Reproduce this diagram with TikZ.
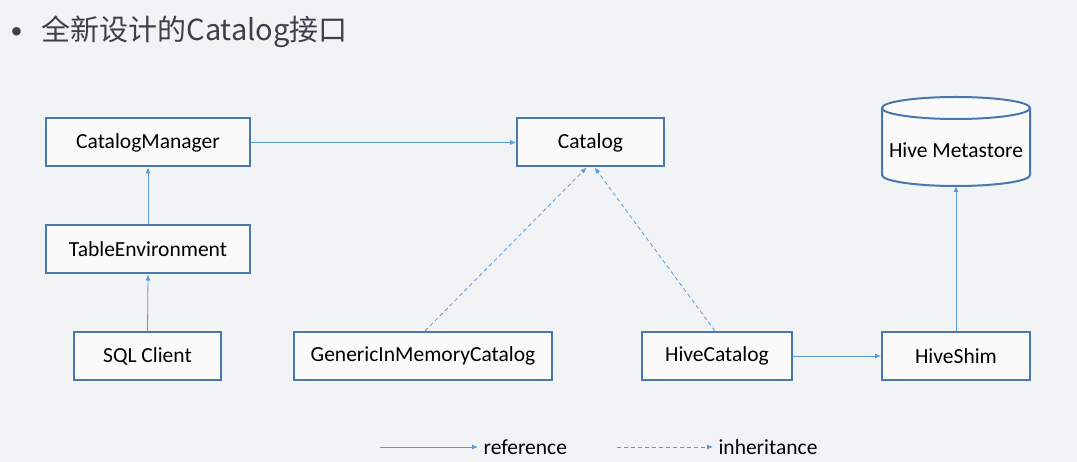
\documentclass[tikz,border=0pt]{standalone}
\usepackage{fontspec}
\setmainfont{Carlito}
\newfontfamily\cjk{Noto Sans CJK SC}
\usetikzlibrary{
    positioning,
    shapes.geometric,
    arrows.meta
}
\definecolor{boxblue}{HTML}{4A78AE}
\definecolor{arrblue}{HTML}{5B9BD5}
\definecolor{titlegray}{HTML}{3B404A}
\definecolor{bggray}{HTML}{F2F3F4}

\begin{document}
\begin{tikzpicture}[
    x=1pt, y=-1pt,
    box/.style={
        rectangle,
        draw=boxblue,
        line width=2pt,
        fill=white!60!bggray,
        minimum height=48pt,
        text centered,
        font=\fontsize{21.5}{24}\selectfont
    },
    storeline/.style={draw=boxblue, line width=2pt, fill=white!60!bggray},
    ref/.style={-{Latex[length=6pt,width=5pt]}, line width=0.8pt, color=arrblue},
    inh/.style={ref, dashed, dash pattern=on 4pt off 3pt}
]

% Background
\fill[bggray] (0,0) rectangle (1077,462);
\useasboundingbox (0,0) rectangle (1077,462);

% Title
\node[anchor=west, font=\fontsize{24}{26}\selectfont, color=titlegray] (bullet) at (7,33) {\textbullet};
\node[anchor=west, font=\cjk\fontsize{29}{31}\selectfont, color=titlegray] (title) at (38,32) {全新设计的Catalog接口};

% Boxes
\node[box, minimum width=204pt] (manager) at (148,142.5) {CatalogManager};
\node[box, minimum width=204pt] (tenv) at (148,249.5) {TableEnvironment};
\node[box, minimum width=147pt] (sql) at (147.5,356) {SQL Client};
\node[box, minimum width=258pt] (generic) at (423,356) {GenericInMemoryCatalog};
\node[box, minimum width=147pt] (catalog) at (590.5,142.5) {Catalog};
\node[box, minimum width=150pt] (hivecat) at (717,356) {HiveCatalog};
\node[box, minimum width=148pt] (shim) at (956,356) {HiveShim};

% Hive Metastore cylinder
\draw[storeline] (882,108) -- (882,175)
    arc[start angle=180, end angle=0, x radius=74, y radius=11] -- (1030,108);
\draw[storeline] (956,108) ellipse[x radius=74, y radius=11];
\node[font=\fontsize{21.5}{24}\selectfont] (metastore) at (956,150) {Hive Metastore};
\coordinate (metabot) at (956,186);

% References
\draw[ref] (manager.east) -- (catalog.west);
\draw[ref] (tenv.north) -- (manager.south);
\draw[ref] (sql.north) -- (tenv.south);
\draw[ref] (hivecat.east) -- (shim.west);
\draw[ref] (shim.north) -- (metabot);

% Inheritance
\draw[inh] ([xshift=2pt]generic.north) -- ([xshift=-4pt]catalog.south);
\draw[inh] ([xshift=-2pt]hivecat.north) -- ([xshift=4pt]catalog.south);

% Legend
\coordinate (refA) at (380,447);
\coordinate (refB) at (478,447);
\coordinate (inhA) at (617,447);
\coordinate (inhB) at (713,447);
\draw[ref] (refA) -- (refB);
\node[anchor=west, font=\fontsize{21.5}{24}\selectfont] (reflabel) at (480,447) {reference};
\draw[inh] (inhA) -- (inhB);
\node[anchor=west, font=\fontsize{21.5}{24}\selectfont] (inhlabel) at (715,447) {inheritance};

\end{tikzpicture}
\end{document}
